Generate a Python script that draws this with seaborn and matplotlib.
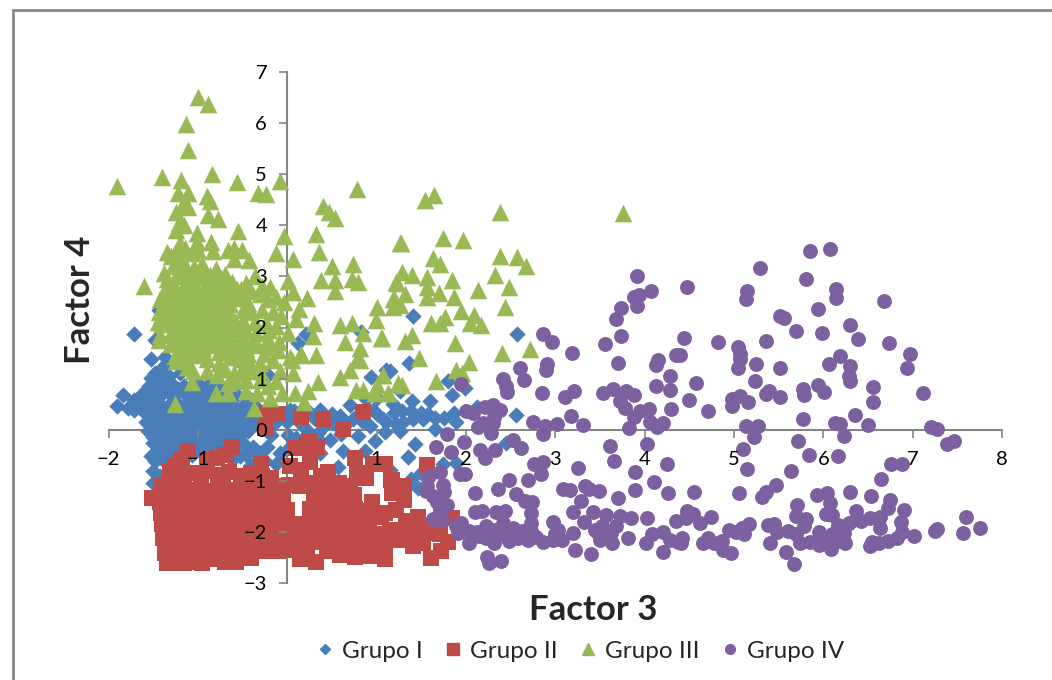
import matplotlib
matplotlib.use('Agg')
import matplotlib.pyplot as plt
from matplotlib.lines import Line2D
from matplotlib.patches import Rectangle
import pandas as pd
import seaborn as sns

# values as (factor 3, factor 4)
grupo_i_sueltos = [
    (-1.71,1.88),(-1.52,1.38),(-1.84,0.67),(-1.90,0.46),(-1.61,0.72),(-1.72,0.59),(-1.78,0.42),(-1.71,0.39),
    (-1.62,0.50),(-1.56,-0.03),(-1.50,-0.26),(-1.52,-0.52),(-1.48,-0.62),(-1.50,-1.04),(-1.43,2.34),(-1.48,1.75),
    (-1.37,1.42),(-0.53,1.95),(0.12,1.70),(0.21,1.88),(0.83,1.92),(-0.21,1.08),(0.94,1.04),(1.15,1.14),
    (0.37,0.39),(0.25,0.33),(0.10,0.23),(0.03,0.39),(0.01,-0.10),(0.22,0.00),(0.10,-0.16),(0.35,-0.07),
    (0.48,-0.20),(0.63,-0.42),(0.57,-0.73),(0.37,-0.23),(0.79,-0.13),(0.98,-0.23),(0.87,-0.42),(0.70,0.49),
    (0.81,0.33),(0.93,0.07),(1.07,0.20),(1.19,0.33),(0.74,0.20),(0.59,0.26),(0.51,0.13),(0.96,0.39),
    (0.37,-0.46),(-0.23,-0.33),(-0.38,-0.33),(-0.49,-0.26),(-0.46,-0.49),(-0.31,-0.46),(-0.53,-0.52),(0.03,-0.33),
    (-0.08,-0.46),(-0.12,-0.68),(2.57,1.87),(1.36,1.30),(1.41,2.22),(1.11,1.16),(1.26,0.75),(1.80,0.95),
    (1.985,0.82),(1.85,0.67),(1.40,0.57),(1.60,0.555),(1.18,0.51),(1.29,0.37),(1.38,0.36),(1.50,0.33),
    (1.575,0.31),(1.65,0.23),(1.295,0.16),(1.41,0.20),(1.52,0.20),(1.76,0.23),(1.87,0.33),(1.89,0.16),
    (1.65,0.01),(1.26,-0.03),(1.11,0.16),(2.12,0.44),(2.56,0.28),(2.45,-0.26),(1.43,-0.28),(1.35,-0.53),
    (1.74,-0.68),(1.89,-0.65),(1.50,-0.84),(1.39,-0.96),(1.15,-0.78),(1.46,-1.14),
    (-1.48,1.10),(-1.40,1.20),(-1.32,1.05),(-1.45,0.98),(-1.35,1.30),(-1.20,1.10),(-1.52,1.02),
]
grupo_i_banda = [
    (-0.30,0.20),(-0.22,0.35),(-0.15,0.12),(-0.08,0.28),(0.00,0.15),(0.08,0.36),(0.15,0.12),(0.30,0.22),
    (0.42,0.10),(0.50,0.30),(0.66,0.12),(0.84,0.18),(1.00,0.30),(1.22,0.12),(0.60,-0.08),(-0.18,-0.10),
    (0.20,-0.40),(-0.25,-0.62),(-0.40,-0.70),(-0.62,-0.60),(-0.75,-0.52),(1.10,-0.05),(1.00,0.62),(0.88,0.60),
]
grupo_i_masa = [
    (-1.55,0.85),(-1.42,0.88),(-1.30,0.92),(-1.15,0.86),(-1.02,0.95),(-0.88,0.90),(-0.74,0.85),(-0.62,0.92),
    (-1.66,0.62),(-1.53,0.66),(-1.40,0.70),(-1.28,0.64),(-1.16,0.72),(-1.04,0.68),(-0.92,0.66),(-0.80,0.70),(-0.68,0.62),(-0.56,0.68),(-0.44,0.64),
    (-1.68,0.46),(-1.57,0.50),(-1.45,0.52),(-1.33,0.46),(-1.22,0.50),(-1.10,0.54),(-0.98,0.48),(-0.86,0.52),(-0.75,0.46),(-0.63,0.50),(-0.50,0.47),(-0.38,0.50),
    (-1.60,0.34),(-1.48,0.32),(-1.36,0.36),(-1.25,0.30),(-1.13,0.35),(-1.01,0.31),(-0.89,0.36),(-0.77,0.30),(-0.65,0.34),(-0.53,0.30),(-0.41,0.35),
    (-1.58,0.16),(-1.46,0.18),(-1.34,0.14),(-1.22,0.18),(-1.10,0.15),(-0.98,0.19),(-0.86,0.14),(-0.74,0.18),(-0.62,0.15),(-0.50,0.19),(-0.38,0.14),
    (-1.52,0.02),(-1.40,-0.02),(-1.28,0.03),(-1.16,-0.01),(-1.04,0.02),(-0.92,-0.02),(-0.80,0.03),(-0.68,-0.01),(-0.56,0.02),(-0.44,-0.02),
    (-1.50,-0.14),(-1.38,-0.18),(-1.26,-0.13),(-1.14,-0.17),(-1.02,-0.14),(-0.90,-0.18),(-0.78,-0.13),(-0.66,-0.17),(-0.55,-0.12),
    (-1.46,-0.32),(-1.34,-0.30),(-1.22,-0.35),(-1.10,-0.31),(-0.98,-0.34),(-0.86,-0.30),(-0.74,-0.35),(-0.62,-0.30),
    (-1.42,-0.48),(-1.30,-0.50),(-1.18,-0.46),(-1.06,-0.50),(-0.94,-0.47),
    (-1.36,-0.66),(-1.30,-0.78),(-1.42,-0.90),(-1.50,-0.80),
    (-1.47,0.75),(-1.35,0.78),(-1.22,0.80),(-1.09,0.78),(-0.96,0.80),(-0.82,0.78),(-0.68,0.76),
    (-1.50,0.42),(-1.38,0.42),(-1.27,0.40),(-1.16,0.44),(-1.05,0.42),(-0.92,0.42),(-0.81,0.40),(-0.70,0.42),(-0.58,0.40),(-0.46,0.42),
    (-1.52,0.25),(-1.40,0.25),(-1.30,0.22),(-1.18,0.25),(-1.06,0.23),(-0.94,0.26),(-0.82,0.23),(-0.70,0.25),(-0.57,0.23),(-0.45,0.25),
    (-1.46,0.08),(-1.34,0.06),(-1.22,0.09),(-1.10,0.07),(-0.98,0.09),(-0.86,0.06),(-0.74,0.09),(-0.62,0.07),(-0.50,0.09),
    (-1.44,-0.08),(-1.32,-0.08),(-1.20,-0.06),(-1.08,-0.07),(-0.96,-0.08),(-0.84,-0.06),(-0.72,-0.08),(-0.60,-0.06),
    (-1.40,-0.25),(-1.28,-0.23),(-1.16,-0.25),(-1.04,-0.23),(-0.92,-0.25),(-0.80,-0.23),(-0.68,-0.24),
]
grupo_ii_sueltos = [
    (-0.23,0.33),(-0.10,0.31),(0.16,0.25),(0.40,0.20),(0.85,0.35),(0.63,0.01),(-0.25,0.03),(-1.11,-0.41),
    (-0.62,-0.34),(-0.68,-0.49),(-1.18,-0.59),(-0.79,-0.55),(-0.90,-0.59),(0.24,-0.23),(0.10,-0.36),(0.33,-0.34),
    (0.22,-0.29),(0.76,-0.55),(0.25,-0.64),(0.03,-0.72),(0.16,-0.78),(-0.29,-0.68),(1.09,-0.67),(0.96,-0.67),
    (0.78,-0.85),(0.46,-0.82),(0.38,-0.91),(1.17,-0.98),(-1.51,-1.34),(-1.40,-1.11),(-1.31,-0.82),(-1.26,-0.72),
    (-1.41,-1.63),(-1.39,-2.12),(-1.37,-2.41),(-1.35,-2.61),(-1.15,-2.61),(-0.81,-2.54),(-0.57,-2.58),(-0.40,-2.51),
    (0.14,-2.53),(0.32,-2.58),(0.59,-2.45),(0.76,-2.49),(0.94,-2.47),(1.10,-2.53),(1.10,-0.68),(1.57,-0.70),
    (1.16,-0.99),(1.31,-1.11),(1.17,-1.24),(1.31,-1.37),(1.22,-1.57),(1.09,-1.63),(1.46,-1.70),(1.33,-1.79),
    (1.84,-1.73),(1.54,-1.89),(1.71,-2.05),(1.80,-2.19),(1.41,-2.28),(1.72,-2.38),(1.61,-2.51),(1.09,-2.35),
    (1.14,-2.15),(1.25,-2.15),(1.52,-2.22),(1.15,-1.96),(1.28,-2.02),(1.41,-1.99),(1.59,-2.02),
]
grupo_ii_masa = [
    (-1.28,-0.95),(-1.15,-0.90),(-1.02,-0.85),(-0.90,-0.80),(-0.78,-0.88),(-0.65,-0.82),(-0.52,-0.90),(-0.40,-0.85),(-0.28,-0.90),(-0.18,-0.95),
    (-1.35,-1.22),(-1.22,-1.15),(-1.10,-1.18),(-0.97,-1.12),(-0.85,-1.20),(-0.72,-1.14),(-0.60,-1.18),(-0.47,-1.12),(-0.35,-1.18),(-0.22,-1.12),(-0.10,-1.10),(0.02,-1.08),(0.14,-1.10),(0.28,-1.05),(0.42,-1.00),(0.58,-1.05),(0.70,-1.10),(0.88,-0.95),
    (-1.42,-1.42),(-1.30,-1.38),(-1.18,-1.42),(-1.05,-1.36),(-0.92,-1.42),(-0.80,-1.38),(-0.68,-1.42),(-0.55,-1.36),(-0.42,-1.42),(-0.30,-1.38),(-0.18,-1.35),(-0.05,-1.30),(0.30,-1.32),(0.45,-1.28),(0.60,-1.35),(0.75,-1.28),(0.95,-1.42),
    (-1.36,-1.62),(-1.24,-1.58),(-1.12,-1.64),(-1.00,-1.60),(-0.87,-1.64),(-0.75,-1.58),(-0.62,-1.64),(-0.50,-1.58),(-0.38,-1.62),(-0.25,-1.58),(-0.12,-1.62),(0.00,-1.58),(0.25,-1.55),(0.38,-1.60),(0.52,-1.55),(0.66,-1.62),(0.76,-1.55),(0.90,-1.60),(1.05,-1.70),
    (-1.40,-1.84),(-1.28,-1.80),(-1.15,-1.85),(-1.03,-1.80),(-0.90,-1.85),(-0.78,-1.80),(-0.65,-1.85),(-0.52,-1.80),(-0.40,-1.85),(-0.28,-1.80),(-0.15,-1.85),(-0.02,-1.80),(0.12,-1.84),(0.25,-1.78),(0.38,-1.84),(0.50,-1.78),(0.64,-1.85),(0.78,-1.80),(0.92,-1.86),
    (-1.38,-2.02),(-1.25,-2.00),(-1.12,-2.05),(-1.00,-2.00),(-0.87,-2.05),(-0.75,-2.00),(-0.62,-2.05),(-0.50,-2.00),(-0.37,-2.05),(-0.25,-2.00),(-0.12,-2.05),(0.00,-2.00),(0.14,-2.05),(0.27,-2.00),(0.40,-2.05),(0.54,-2.00),(0.68,-2.05),(0.82,-2.00),(0.97,-2.05),
    (-1.30,-2.25),(-1.18,-2.22),(-1.05,-2.27),(-0.92,-2.22),(-0.80,-2.27),(-0.67,-2.22),(-0.55,-2.27),(-0.42,-2.22),(-0.30,-2.27),(-0.17,-2.20),(-0.05,-2.25),(0.08,-2.22),(0.22,-2.27),(0.36,-2.20),(0.50,-2.25),(0.64,-2.20),(0.80,-2.25),(0.95,-2.20),(1.02,-2.30),
    (-1.25,-2.42),(-1.12,-2.45),(-1.00,-2.40),(-0.88,-2.45),(-0.75,-2.42),(-0.62,-2.45),(-0.50,-2.40),(-0.25,-2.38),(-0.10,-2.38),(0.02,-2.36),(0.44,-2.38),(0.70,-2.38),(1.05,-2.42),
    (-1.26,-2.60),(-1.05,-2.58),(-0.95,-2.60),(-0.70,-2.58),
]
grupo_iii_sueltos = [
    (-1.00,6.51),(-0.89,6.38),(-1.13,5.98),(-1.11,5.48),(-1.40,4.95),(-0.84,5.00),(-1.90,4.77),(-1.19,4.89),
    (-0.56,4.84),(-0.08,4.86),(0.78,4.71),(-1.22,4.64),(-1.11,4.63),(-0.33,4.64),(-0.24,4.61),(-0.90,4.58),
    (-0.86,4.48),(-1.17,4.41),(-1.11,4.35),(-1.25,4.27),(0.40,4.37),(0.47,4.27),(0.53,4.14),(-0.89,4.20),
    (-0.78,4.12),(-1.21,4.04),(-1.16,4.01),(-1.24,3.91),(-0.55,3.88),(-0.04,3.80),(0.32,3.83),(-1.01,3.84),
    (-1.01,3.68),(-0.85,3.68),(-1.20,3.65),(-1.35,3.47),(-0.83,3.50),(-0.12,3.46),(0.36,3.48),(0.07,3.35),
    (-0.66,3.52),(-0.59,3.55),(-0.51,3.52),(-0.60,3.35),(-0.43,3.32),(1.26,3.65),(0.50,3.20),(0.74,3.24),
    (-1.38,3.07),(-1.60,2.81),(-0.46,2.88),(-0.36,3.00),(0.01,2.91),(0.38,2.93),(0.53,2.93),(0.72,2.95),
    (0.79,2.90),(0.53,2.72),(1.22,2.90),(0.07,2.70),(0.22,2.58),(-0.19,2.80),(1.19,2.57),(1.01,2.41),
    (-0.04,2.49),(0.13,2.36),(0.10,2.16),(0.99,2.14),(-0.07,2.23),(0.30,2.09),(0.59,2.05),(0.72,2.09),
    (0.85,1.90),(0.01,1.90),(0.29,1.83),(1.06,1.80),(0.65,1.72),(0.81,1.59),(-0.09,1.72),(0.32,1.46),
    (0.16,1.49),(0.03,1.42),(0.78,1.39),(-1.43,1.76),(-1.24,1.34),(-1.05,1.14),(-1.06,0.93),(-1.26,0.51),
    (-0.80,0.72),(-0.66,0.72),(-0.79,1.08),(-0.60,1.11),(-0.46,0.98),(-0.30,0.98),(-0.46,0.75),(-0.21,0.85),
    (-0.19,0.62),(-0.37,0.42),(-0.16,1.37),(-0.31,1.30),(0.05,1.37),(0.14,1.47),(-0.08,1.14),(0.06,1.11),
    (0.35,0.93),(-0.06,0.72),(0.09,0.72),(0.23,0.75),(0.19,0.55),(0.59,1.04),(0.70,1.17),(0.81,1.37),
    (0.77,0.77),(0.85,0.78),(0.98,0.72),(1.13,0.72),(1.07,1.08),(1.00,0.88),(1.24,0.91),(1.54,4.50),
    (1.64,4.60),(2.38,4.27),(3.76,4.24),(1.27,3.65),(1.74,3.75),(1.97,3.72),(2.38,3.39),(2.57,3.38),
    (2.67,3.21),(1.63,3.36),(1.71,3.25),(1.29,3.09),(1.40,3.03),(1.23,2.88),(1.56,2.99),(1.56,2.80),
    (1.84,2.92),(2.33,3.02),(2.13,2.74),(2.48,2.80),(1.70,2.67),(1.56,2.60),(1.32,2.66),(1.18,2.56),
    (1.87,2.60),(1.26,2.45),(1.18,2.40),(2.44,2.41),(1.95,2.32),(2.09,2.25),(1.77,2.20),(1.61,2.09),
    (1.71,2.09),(2.05,2.09),(2.17,2.04),(1.05,1.79),(1.40,1.86),(1.32,1.74),(1.88,1.70),(2.40,1.50),
    (2.72,1.57),(1.47,1.40),(2.04,1.32),(1.89,1.16),(1.96,1.11),(1.07,1.08),(1.28,0.88),(1.13,0.72),(1.67,0.95),
]
grupo_iii_masa = [
    (-1.30,3.40),(-1.18,3.35),(-1.06,3.45),(-0.95,3.25),(-1.28,3.20),(-1.16,3.15),(-1.04,3.18),(-0.92,3.10),(-0.80,3.15),(-0.70,3.05),
    (-1.34,2.95),(-1.22,3.00),(-1.10,2.92),(-0.98,2.98),(-0.86,2.90),(-0.74,2.96),(-0.62,2.90),
    (-1.38,2.72),(-1.26,2.78),(-1.14,2.70),(-1.02,2.76),(-0.90,2.68),(-0.78,2.74),(-0.66,2.68),(-0.56,2.75),
    (-1.36,2.50),(-1.24,2.56),(-1.12,2.48),(-1.00,2.54),(-0.88,2.46),(-0.76,2.52),(-0.64,2.46),(-0.30,2.65),(-0.22,2.55),(-0.12,2.60),
    (-1.36,2.28),(-1.24,2.34),(-1.12,2.26),(-1.00,2.32),(-0.88,2.24),(-0.76,2.30),(-0.64,2.24),(-0.50,2.35),(-0.40,2.30),(-0.28,2.35),(-0.16,2.30),
    (-1.40,2.06),(-1.28,2.12),(-1.16,2.04),(-1.04,2.10),(-0.92,2.02),(-0.80,2.08),(-0.68,2.02),
    (-1.42,1.86),(-1.30,1.90),(-1.18,1.82),(-1.06,1.88),(-0.94,1.80),(-0.82,1.86),(-0.70,1.80),(-0.52,1.88),(-0.35,1.90),(-0.22,1.78),
    (-1.30,1.68),(-1.18,1.62),(-1.06,1.68),(-0.94,1.60),(-0.82,1.66),(-0.70,1.60),(-0.58,1.66),(-0.46,1.60),(-0.34,1.66),(-0.20,1.62),
    (-1.26,1.45),(-1.14,1.40),(-1.02,1.46),(-0.90,1.38),(-0.76,1.30),(-0.64,1.42),(-0.52,1.38),(-0.42,1.30),(-0.40,1.15),(-0.52,1.15),(-0.30,1.15),(-0.70,1.18),
    (-1.22,3.08),(-1.10,3.05),(-0.98,3.08),(-0.86,3.02),(-1.28,2.86),(-1.16,2.84),(-1.04,2.86),(-0.92,2.84),(-0.80,2.84),(-0.68,2.82),
    (-1.30,2.62),(-1.18,2.60),(-1.06,2.64),(-0.94,2.60),(-0.82,2.62),(-0.70,2.58),(-0.58,2.58),(-1.30,2.40),(-1.18,2.38),(-1.06,2.40),(-0.94,2.38),(-0.82,2.40),(-0.70,2.36),
    (-1.32,2.18),(-1.20,2.16),(-1.08,2.18),(-0.96,2.16),(-0.84,2.16),(-0.72,2.14),(-0.58,2.12),(-1.24,1.98),(-1.12,1.96),(-1.00,1.96),(-0.88,1.94),(-0.76,1.94),(-0.60,1.98),(-0.46,1.96),
    (-1.24,1.78),(-1.12,1.76),(-1.00,1.74),(-0.88,1.74),(-0.76,1.72),(-0.64,1.76),(-0.50,1.76),(-0.38,1.78),(-1.20,1.54),(-1.08,1.54),(-0.96,1.52),(-0.76,1.52),(-0.58,1.52),(-0.44,1.48),(-0.26,1.48),
    (-1.25,3.50),(-1.14,3.55),(-1.00,3.52),(-1.42,2.55),(-1.44,2.30),(-1.45,2.10),(-0.50,2.62),(-0.44,2.48),(-0.50,2.12),(-0.36,2.10),(-0.24,2.08),
    (-0.12,2.02),(-0.52,2.75),(-0.28,2.82),(-0.40,2.72),(-0.20,1.95),(-0.10,1.55),(-0.58,0.95),(-0.34,0.72),(-0.12,0.95),(-0.90,1.15),(-1.12,1.22),(-0.66,0.92),
]
grupo_iv_sueltos = [
    (5.855,3.50),(6.07,3.535),(5.29,3.16),(5.81,2.94),(4.48,2.785),(5.15,2.71),(5.13,2.55),(6.14,2.76),(6.14,2.58),(6.68,2.51),
    (5.94,2.36),(5.51,2.22),(5.565,2.19),(6.30,2.05),(5.70,1.93),(5.98,1.89),(4.44,1.79),(4.82,1.71),(5.36,1.73),(6.39,1.77),
    (6.73,1.70),(5.04,1.61),(5.07,1.49),(5.07,1.38),(6.97,1.49),(6.19,1.44),(4.40,1.47),(5.25,1.285),(5.04,1.21),(5.52,1.21),
    (6.06,1.285),(6.30,1.24),(6.94,1.21),(6.29,1.06),(6.30,0.96),(5.24,0.95),(4.58,0.91),(5.94,0.88),(6.56,0.835),(6.01,0.74),
    (5.77,0.80),(5.78,0.67),(5.39,0.76),(5.36,0.70),(5.52,0.64),(7.115,0.72),(4.50,0.59),(4.98,0.61),(5.07,0.665),(5.16,0.55),
    (4.98,0.46),(6.56,0.55),(4.71,0.36),(6.36,0.29),(5.77,0.215),(5.13,0.07),(5.27,0.08),(6.13,0.13),(6.19,0.11),(6.50,0.10),
    (7.21,0.05),(7.27,0.02),(5.22,-0.14),(6.23,-0.12),(5.72,-0.23),(7.39,-0.28),(7.46,-0.22),(5.10,-0.38),(5.84,-0.49),(6.16,-0.52),
    (6.76,-0.68),(6.885,-0.67),(5.145,-0.76),(5.64,-0.80),(6.65,-0.96),(5.47,-1.08),(5.36,-1.22),(5.31,-1.32),(4.55,-1.22),(5.06,-1.24),
    (5.93,-1.27),(6.04,-1.23),(6.30,-1.21),(6.53,-1.30),(6.75,-1.38),(6.72,-1.53),(6.90,-1.58),(5.71,-1.47),(6.08,-1.44),(6.03,-1.64),
    (6.10,-1.66),(6.37,-1.60),(6.42,-1.78),(6.52,-1.72),(6.64,-1.71),(5.695,-1.68),(5.81,-1.75),(5.78,-1.88),(4.74,-1.71),(4.47,-1.60),
    (4.54,-1.64),(4.46,-1.73),(4.62,-1.83),(5.17,-1.85),(5.09,-1.92),(4.94,-1.96),(5.11,-2.05),(5.02,-2.00),(5.38,-1.87),(5.45,-1.85),
    (5.48,-2.01),(5.61,-1.99),(5.69,-2.05),(6.17,-1.87),(6.29,-1.83),(6.23,-2.02),(5.955,-2.00),(6.10,-2.05),(6.87,-1.81),(6.88,-2.01),
    (6.64,-1.92),(7.01,-2.08),(6.83,-2.12),(6.72,-2.17),(6.62,-2.22),(6.55,-2.20),(6.52,-2.27),(5.74,-2.22),(5.85,-2.20),(5.95,-2.25),
    (6.02,-2.19),(6.09,-2.34),(6.13,-2.19),(6.24,-2.22),(5.405,-2.22),(5.58,-2.40),(5.67,-2.63),(7.27,-1.94),(7.25,-1.99),(7.60,-1.71),
    (7.565,-2.02),(7.75,-1.92),(4.41,-2.22),(4.71,-2.12),(4.65,-2.22),(4.78,-2.22),(4.865,-2.17),(4.88,-2.36),(4.97,-2.41),
    (2.86,1.88),(2.96,1.72),(3.19,1.51),(3.74,1.83),(3.56,1.68),(3.70,1.30),(4.15,1.37),(4.13,1.27),(4.35,1.47),(2.91,1.285),
    (2.90,1.17),(2.60,1.21),(2.42,0.99),(2.45,0.85),(2.455,0.73),(2.65,0.965),(4.28,1.06),(2.85,0.72),(1.95,0.90),(3.11,0.64),
    (3.205,0.76),(3.54,0.72),(3.65,0.80),(3.79,0.75),(3.88,0.67),(4.13,0.85),(4.28,0.77),(3.72,0.555),(3.78,0.42),(2.00,0.37),
    (2.08,0.33),(2.21,0.44),(2.30,0.49),(2.38,0.39),(2.32,0.25),(2.19,0.14),(2.13,0.05),(2.30,0.13),(2.28,-0.065),(1.79,-0.09),
    (2.75,0.15),(2.88,0.065),(2.86,-0.08),(3.02,0.12),(3.18,0.26),(3.31,0.10),(3.88,0.25),(3.95,0.37),(4.05,0.40),(4.29,0.40),
    (4.06,0.16),(4.205,0.14),(4.14,0.05),(3.82,0.03),(1.98,-0.25),(1.67,-0.34),(1.83,-0.44),(2.16,-0.39),(2.33,-0.39),(2.21,-0.55),
    (2.53,-0.21),(2.62,-0.35),(3.61,-0.31),(4.03,-0.28),(3.66,-0.62),(2.76,-0.67),(2.86,-0.64),(2.84,-0.87),(3.26,-0.75),(3.89,-0.82),
    (4.25,-0.67),(2.69,-0.98),(2.48,-0.98),(1.93,-0.86),(1.99,-0.86),(1.71,-0.835),(1.59,-0.91),(1.57,-1.11),(1.74,-1.08),(1.75,-1.21),
    (1.63,-1.30),(2.10,-1.23),(2.36,-1.17),(2.56,-1.25),(2.66,-1.40),(2.74,-1.415),(3.09,-1.17),(3.17,-1.18),(3.33,-1.10),(3.38,-1.16),
    (3.485,-1.20),(3.29,-1.40),(3.70,-1.34),(3.89,-1.18),(4.10,-1.02),(4.26,-1.24),(1.79,-1.48),(1.705,-1.565),(1.63,-1.75),(1.73,-1.77),
    (2.10,-1.61),(2.18,-1.60),(2.34,-1.61),(2.44,-1.60),(2.73,-1.63),(3.20,-1.61),(3.42,-1.61),(3.57,-1.66),(3.72,-1.68),(3.85,-1.73),
    (4.03,-1.72),(4.35,-1.79),(1.95,-1.83),(1.89,-1.89),(1.91,-2.02),(2.04,-1.99),(2.04,-2.22),(2.15,-2.09),(2.23,-1.89),(2.23,-2.12),
    (2.32,-2.22),(2.32,-1.96),(2.41,-1.83),(2.53,-1.92),(2.58,-2.12),(2.69,-2.15),(2.73,-1.99),(2.73,-1.83),(2.86,-2.19),(2.97,-2.15),
    (2.97,-1.81),(3.03,-1.96),(3.07,-2.15),(3.20,-2.02),(3.22,-2.35),(3.40,-2.43),(3.32,-1.81),(3.44,-1.96),(3.50,-2.15),(3.64,-2.22),
    (3.68,-1.89),(3.62,-2.02),(3.81,-2.12),(4.02,-2.22),(4.08,-2.04),(4.21,-2.01),(4.28,-2.15),(4.21,-2.39),(4.37,-2.19),(2.235,-2.50),
    (2.26,-2.61),(2.395,-2.56),(3.91,3.00),(4.07,2.72),(3.94,2.64),(3.88,2.60),(3.91,2.43),(3.74,2.38),(3.675,2.17),(2.12,-2.00),
    (2.42,-2.05),(2.63,-1.98),(2.78,-2.10),(3.00,-2.05),(3.52,-1.88),(3.48,-2.02),(4.42,-2.12),(1.68,-1.42),(1.55,-1.20),(2.48,-2.18),
]

grupos = ['Grupo I', 'Grupo II', 'Grupo III', 'Grupo IV']
puntos = [
    grupo_i_masa + grupo_i_banda + grupo_i_sueltos,
    grupo_ii_masa + grupo_ii_sueltos,
    grupo_iii_masa + grupo_iii_sueltos,
    grupo_iv_sueltos,
]
x_ticks = [-2, -1, 0, 1, 2, 3, 4, 5, 6, 7, 8]
y_ticks = [-3, -2, -1, 0, 1, 2, 3, 4, 5, 6, 7]
colores = ['#4A7EBB', '#BE4B48', '#98B954', '#7D60A0']
marcadores = ['D', 's', '^', 'o']
tamanos = [70, 140, 160, 115]

sns.set_theme(style='white')
plt.rcParams['font.family'] = ['Lato', 'DejaVu Sans']

fig = plt.figure(figsize=(10.52, 6.8), dpi=100)
ax = fig.add_axes([108.5 / 1052, 97 / 680, 893.5 / 1052, 511 / 680])

for nombre, pts, color, marca, tam in zip(grupos, puntos, colores, marcadores, tamanos):
    df = pd.DataFrame(pts, columns=['Factor 3', 'Factor 4'])
    sns.scatterplot(data=df, x='Factor 3', y='Factor 4', color=color, marker=marca, s=tam,
                    linewidth=0, ax=ax, zorder=1, clip_on=False)

ax.set_xlim(-2, 8)
ax.set_ylim(-3, 7)
ax.set_xticks(x_ticks)
ax.set_yticks(y_ticks)
ax.set_axisbelow(False)
ax.spines['left'].set_position(('data', 0))
ax.spines['bottom'].set_position(('data', 0))
ax.spines['top'].set_visible(False)
ax.spines['right'].set_visible(False)
for lado in ['left', 'bottom']:
    ax.spines[lado].set_color('#868686')
    ax.spines[lado].set_linewidth(1.5)
    ax.spines[lado].set_zorder(0.5)
ax.tick_params(axis='both', direction='out', length=5.5, width=1.2, color='#868686', labelsize=14.5, labelcolor='black')
ax.tick_params(axis='x', pad=10, bottom=True)
ax.tick_params(axis='y', pad=9, left=True)
ax.set_xlabel('')
ax.set_ylabel('')

fig.text(593 / 1052, 1 - 610 / 680, 'Factor 3', fontsize=25, fontweight='bold', ha='center', va='center')
fig.text(80 / 1052, 1 - 300 / 680, 'Factor 4', fontsize=25, fontweight='bold', rotation=90, ha='center', va='center')

handles = [Line2D([], [], linestyle='', marker=m, color=c, markersize=s) for m, c, s in zip(marcadores, colores, [5, 8, 8, 7])]
fig.legend(handles, grupos, ncol=4, frameon=False, fontsize=17.5, loc='center', bbox_to_anchor=(578 / 1052, 1 - 651 / 680),
           columnspacing=0.7, handletextpad=0.15, borderpad=0, handlelength=1.1)

# marco gris exterior, se sale por la derecha y por abajo
fig.add_artist(Rectangle((12.5 / 1052, -0.1), 1.2, 1.1 - 10.5 / 680, transform=fig.transFigure,
                         facecolor='none', edgecolor='#868686', linewidth=2))

fig.savefig('out.png', dpi=100)
